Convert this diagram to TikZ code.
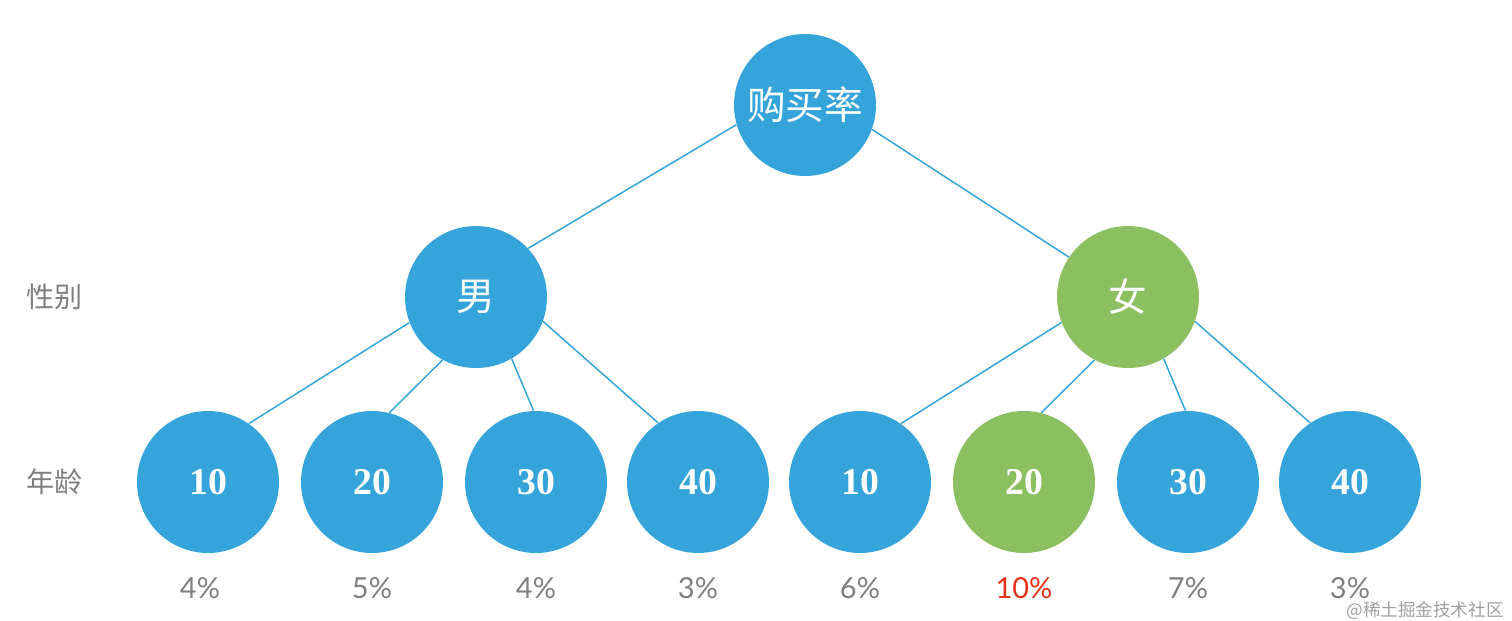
\documentclass[tikz,border=0pt]{standalone}
\usepackage{fontspec}
\setmainfont{Liberation Serif}
\newfontfamily\cjk{Noto Sans CJK SC}
\newfontfamily\pctfont{Lato}
\definecolor{nodeblue}{HTML}{34A4DA}
\definecolor{nodegreen}{HTML}{8BBF60}
\definecolor{labelgray}{HTML}{7F7F7F}
\definecolor{hotred}{HTML}{E8311A}
\tikzset{
  ball/.style={circle, fill=nodeblue, minimum size=2.84cm, inner sep=0pt, text=white},
  pick/.style={ball, fill=nodegreen},
  cjkball/.style={font=\cjk\fontsize{22}{22}\selectfont},
  numball/.style={font=\bfseries\fontsize{21.5}{21.5}\selectfont},
  link/.style={draw=nodeblue, line width=0.85pt},
  share/.style={text=labelgray, inner sep=1pt, font=\pctfont\fontsize{16.5}{16.5}\selectfont},
  rowlabel/.style={text=labelgray, font=\cjk\fontsize{16}{16}\selectfont}
}
\begin{document}
\begin{tikzpicture}[x=0.02cm, y=-0.02cm]
\useasboundingbox (0,0) rectangle (1512,620);
\node[ball, cjkball] at (805,105) (rate) {购买率};
\node[ball, cjkball] at (476,297) (male) {男};
\node[pick, cjkball] at (1128,297) (female) {女};
\node[ball, numball] at (208,482) (m10) {10};
\node[ball, numball] at (372,482) (m20) {20};
\node[ball, numball] at (536,482) (m30) {30};
\node[ball, numball] at (698,482) (m40) {40};
\node[ball, numball] at (860,482) (f10) {10};
\node[pick, numball] at (1024,482) (f20) {20};
\node[ball, numball] at (1188,482) (f30) {30};
\node[ball, numball] at (1350,482) (f40) {40};
\node[rowlabel] at (55,297) (gender) {性别};
\node[rowlabel] at (55,482) (age) {年龄};
\node[share] at (200,588) (pm10) {4\%};
\node[share] at (372,588) (pm20) {5\%};
\node[share] at (536,588) (pm30) {4\%};
\node[share] at (698,588) (pm40) {3\%};
\node[share] at (860,588) (pf10) {6\%};
\node[share, text=hotred] at (1024,588) (pf20) {10\%};
\node[share] at (1188,588) (pf30) {7\%};
\node[share] at (1350,588) (pf40) {3\%};
\node[text=labelgray!75, inner sep=0pt, font=\cjk\fontsize{10}{10}\selectfont, anchor=east] at (1504,611) (mark) {@稀土掘金技术社区};
\draw[link] (rate.196) -- (male.43);
\draw[link] (rate.340) -- (female.146);
\draw[link] (male.201) -- (m10.55);
\draw[link] (male.242) -- (m20.76);
\draw[link] (male.300) -- (m30.92);
\draw[link] (male.340) -- (m40.124);
\draw[link] (female.201) -- (f10.55);
\draw[link] (female.242) -- (f20.76);
\draw[link] (female.300) -- (f30.92);
\draw[link] (female.340) -- (f40.124);
\end{tikzpicture}
\end{document}
